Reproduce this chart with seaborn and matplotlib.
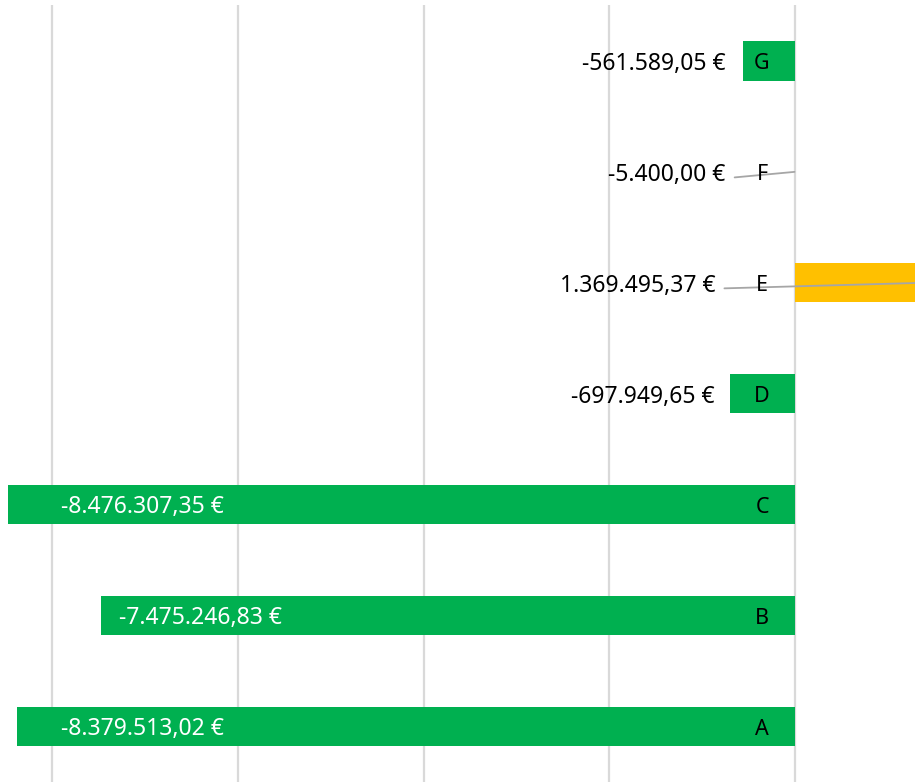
import numpy as np
import pandas as pd
import matplotlib.pyplot as plt
import seaborn as sns

# data (top to bottom as drawn)
categories = ['G', 'F', 'E', 'D', 'C', 'B', 'A']
values = [-561589.05, -5400.00, 1369495.37, -697949.65, -8476307.35, -7475246.83, -8379513.02]
bar_colors = ['#00B050', '#00B050', '#FFC000', '#00B050', '#00B050', '#00B050', '#00B050']
grid_ticks = [-8e6, -6e6, -4e6, -2e6, 0]


def euro(v):
    s = f'{v:,.2f}'.replace(',', 'X').replace('.', ',').replace('X', '.')
    return s + ' €'


sns.set_style('white')
plt.rcParams['font.family'] = ['Noto Sans', 'DejaVu Sans']

df = pd.DataFrame({'cat': categories, 'val': values})

fig = plt.figure(figsize=(9.15, 7.82), dpi=100)
ax = fig.add_axes([0, 0, 1, 0.993])

sns.barplot(data=df, x='val', y='cat', hue='cat', order=categories,
            palette=dict(zip(categories, bar_colors)), legend=False,
            width=0.355, orient='h', saturation=1, linewidth=0, ax=ax, zorder=2)

ax.set_xlim(-8.56e6, 1.292e6)
ax.set_ylim(len(categories) - 0.5, -0.5)
ax.set_xticks(grid_ticks)
ax.xaxis.grid(True, color='#D9D9D9', lw=1.6, zorder=0)
ax.set_axisbelow(True)
ax.tick_params(left=False, bottom=False, labelleft=False, labelbottom=False)
ax.set_xlabel('')
ax.set_ylabel('')
for sp in ax.spines.values():
    sp.set_visible(False)

for i, (c, v) in enumerate(zip(categories, values)):
    # category letter near the zero line
    ax.text(-0.355e6, i + 0.025, c, ha='center', va='center', fontsize=15.5,
            color='black', zorder=4)
    if v < -2e6:
        ax.text(max(v, -8.1e6) + 0.2e6, i + 0.02, euro(v), ha='left', va='center',
                fontsize=16.5, color='white', zorder=4)
    else:
        if v > 0:
            lx = -0.86e6
        else:
            lx = min(v - 0.17e6, -0.75e6)
        ax.text(lx, i + 0.03, euro(v), ha='right', va='center', fontsize=16.5,
                color='black', zorder=4)
        if abs(v) < 0.2e6 or v > 0:
            ax.plot([lx + 0.1e6, v], [i + 0.05, i], color='#A6A6A6', lw=1.3, zorder=3)

fig.savefig('out.png', dpi=100)
